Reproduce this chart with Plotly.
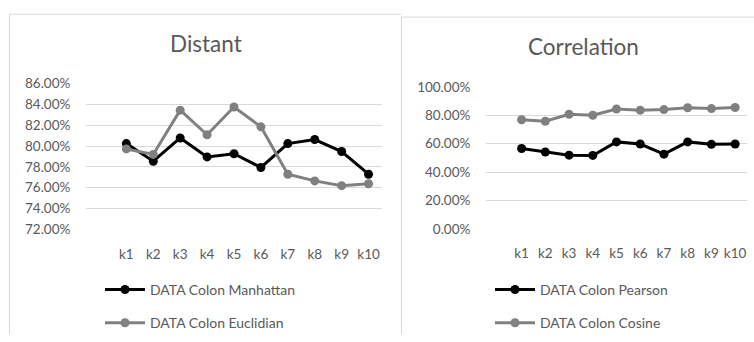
import plotly.graph_objects as go

cats = ["k1", "k2", "k3", "k4", "k5", "k6", "k7", "k8", "k9", "k10"]
manhattan = [80.24, 78.55, 80.78, 78.96, 79.27, 77.95, 80.24, 80.63, 79.48, 77.30]
euclidian = [79.73, 79.20, 83.45, 81.09, 83.75, 81.85, 77.30, 76.66, 76.20, 76.39]
pearson = [56.7, 54.2, 52.0, 51.8, 61.3, 59.8, 52.7, 61.3, 59.6, 59.8]
cosine = [76.9, 75.8, 80.7, 80.0, 84.4, 83.6, 84.0, 85.3, 84.7, 85.5]

W, H = 754, 342
FONT = "Lato"
TXT = "#595959"
GRID = "#d9d9d9"
BLACK = "#000000"
GREY = "#808080"

def px(x):
    return x / W

def py(y):
    return 1 - y / H

fig = go.Figure()

def add(x, y, name, color, xa, ya, legend, group):
    fig.add_trace(go.Scatter(
        x=x, y=y, name=name, mode="lines+markers",
        line=dict(color=color, width=3),
        marker=dict(color=color, size=9, symbol="circle"),
        xaxis=xa, yaxis=ya, legend=legend, legendgroup=group,
        hoverinfo="skip",
    ))

add(cats, manhattan, "DATA Colon Manhattan", BLACK, "x", "y", "legend", "a")
add(cats, euclidian, "DATA Colon Euclidian", GREY, "x", "y", "legend", "b")
add(cats, pearson, "DATA Colon Pearson", BLACK, "x2", "y2", "legend2", "c")
add(cats, cosine, "DATA Colon Cosine", GREY, "x2", "y2", "legend2", "d")

xcommon = dict(type="category", showgrid=False, zeroline=False, showline=False,
               ticks="outside", ticklen=12, tickcolor="rgba(0,0,0,0)",
               tickfont=dict(family=FONT, size=13.5, color=TXT), range=[-1.5, 9.5],
               fixedrange=True)
ycommon = dict(showgrid=True, gridcolor=GRID, gridwidth=1, zeroline=False, showline=False,
               ticks="outside", ticklen=12, tickcolor="rgba(0,0,0,0)",
               tickfont=dict(family=FONT, size=13.5, color=TXT), ticksuffix="%",
               tickformat=".2f", fixedrange=True)

legcommon = dict(orientation="v", font=dict(family=FONT, size=14, color=TXT),
                 bgcolor="rgba(0,0,0,0)", traceorder="grouped", tracegroupgap=12,
                 itemwidth=40, xanchor="left", yanchor="top")

fig.update_layout(
    width=W, height=H, margin=dict(l=0, r=0, t=0, b=0),
    paper_bgcolor="white", plot_bgcolor="white",
    showlegend=True,
    xaxis=dict(xcommon, domain=[px(86), px(382)], anchor="y"),
    yaxis=dict(ycommon, domain=[py(232.3), py(79.3)], range=[72, 86], dtick=2, anchor="x"),
    xaxis2=dict(xcommon, domain=[px(486), px(747)], anchor="y2"),
    yaxis2=dict(ycommon, domain=[py(232), py(82.7)], range=[0, 100], dtick=20, anchor="x2"),
    legend=dict(legcommon, x=px(100), y=py(279)),
    legend2=dict(legcommon, x=px(490), y=py(279)),
    annotations=[
        dict(text="Distant", x=px(205.7), y=py(37), xref="paper", yref="paper",
             showarrow=False, xanchor="center", yanchor="middle",
             font=dict(family=FONT, size=22.5, color=TXT)),
        dict(text="Correlation", x=px(583.7), y=py(40), xref="paper", yref="paper",
             showarrow=False, xanchor="center", yanchor="middle",
             font=dict(family=FONT, size=22.5, color=TXT)),
    ],
    shapes=[
        dict(type="path", xref="paper", yref="paper",
             path=f"M {px(9.5)} {py(342)} L {px(9.5)} {py(6.5)} L {px(401.5)} {py(6.5)}",
             line=dict(color=GRID, width=1)),
        dict(type="path", xref="paper", yref="paper",
             path=f"M {px(401.5)} {py(342)} L {px(401.5)} {py(9.5)} L {px(754)} {py(9.5)}",
             line=dict(color=GRID, width=1)),
    ],
)

fig.write_html("out.html")
